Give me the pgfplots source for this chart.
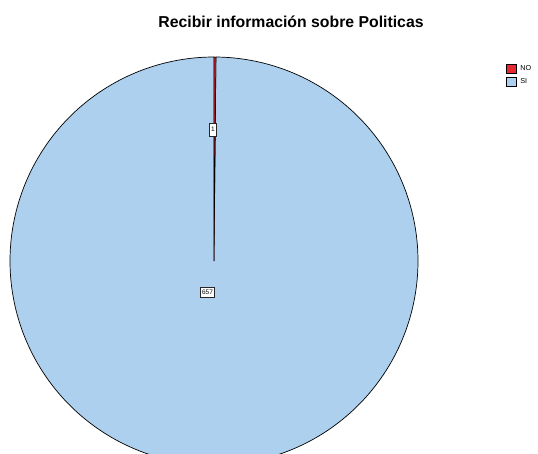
\documentclass[border=0pt]{standalone}
\usepackage{fontspec}
\setmainfont{Liberation Sans}
\usepackage{pgfplots}
\pgfplotsset{compat=1.18}
\definecolor{noRed}{RGB}{232,40,48}
\definecolor{siBlue}{RGB}{173,208,238}
\begin{document}
\begin{tikzpicture}
\def\vNO{1}\def\vSI{657}
\pgfmathsetmacro{\aSplit}{90-360*\vNO/(\vNO+\vSI)}
\begin{axis}[
  scale only axis, width=538pt, height=453pt,
  xmin=0, xmax=538, ymin=0, ymax=453,
  hide axis, clip=true,
  reverse legend,
  legend cell align=left,
  legend image code/.code={\draw[#1] (0pt,-4.5pt) rectangle (10pt,4.5pt);},
  legend style={at={(axis cs:506,389)}, anchor=north west, draw=none, fill=none,
    font=\fontsize{7.2}{8}\selectfont, inner sep=0pt, row sep=3pt,
    nodes={inner sep=1.5pt}, /tikz/every odd column/.append style={column sep=2pt}},
]
\addplot[fill=siBlue, draw=black, line width=0.7pt, domain=-270:\aSplit, samples=721, variable=\t]
  ({214+204*cos(\t)},{192+204*sin(\t)}) -- (axis cs:214,192) -- cycle;
\addlegendentry{SI}
\addplot[fill=noRed, draw=black, line width=0.5pt, domain=\aSplit:90, samples=5, variable=\t]
  ({214+204*cos(\t)},{192+204*sin(\t)}) -- (axis cs:214,192) -- cycle;
\addlegendentry{NO}
\node[font=\fontsize{15.8}{18}\selectfont\bfseries, anchor=base] at (axis cs:291,425) {Recibir información sobre Politicas};
\node[draw=black!85, fill=white, inner xsep=1.8pt, inner ysep=0pt, minimum height=13pt, line width=0.8pt, font=\fontsize{6.5}{7}\selectfont] at (axis cs:213,323.5) {1};
\node[draw=black!85, fill=white, inner xsep=1.8pt, inner ysep=0pt, minimum height=10pt, line width=0.8pt, font=\fontsize{6.5}{7}\selectfont] at (axis cs:207.5,161) {657};
\end{axis}
\pgfresetboundingbox
\useasboundingbox (current axis.south west) rectangle (current axis.north east);
\end{tikzpicture}
\end{document}
